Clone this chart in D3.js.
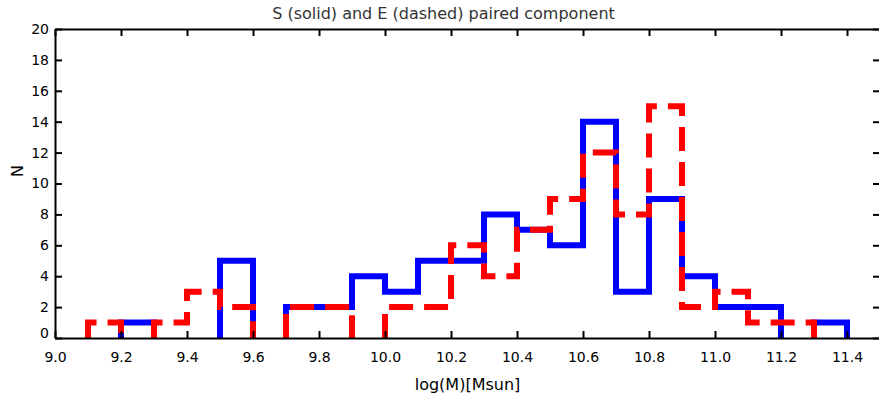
<!DOCTYPE html>
<html>
<head>
<meta charset="utf-8">
<script src="https://cdn.jsdelivr.net/npm/d3@7"></script>
<style>
  html, body { margin: 0; padding: 0; background: #fff; }
  svg { display: block; font-family: "DejaVu Sans", sans-serif; }
</style>
</head>
<body>
<svg id="chart" width="879" height="401"></svg>
<script>
// Left edges of the 0.1-dex mass bins
const binLeft = [9.1, 9.2, 9.3, 9.4, 9.5, 9.6, 9.7, 9.8, 9.9, 10.0, 10.1, 10.2,
                 10.3, 10.4, 10.5, 10.6, 10.7, 10.8, 10.9, 11.0, 11.1, 11.2, 11.3];
const binWidth = 0.1;
// S component counts (solid blue)
const sCounts = [0, 1, 0, 0, 5, 0, 2, 2, 4, 3, 5, 5, 8, 7, 6, 14, 3, 9, 4, 2, 2, 0, 1];
// E component counts (dashed red)
const eCounts = [1, 0, 1, 3, 2, 0, 2, 2, 0, 2, 2, 6, 4, 7, 9, 12, 8, 15, 2, 3, 1, 1, 0];

const xTicks = [9.0, 9.2, 9.4, 9.6, 9.8, 10.0, 10.2, 10.4, 10.6, 10.8, 11.0, 11.2, 11.4];
const yTicks = [0, 2, 4, 6, 8, 10, 12, 14, 16, 18, 20];

const titleText = "S (solid) and E (dashed) paired component";
const xLabel = "log(M)[Msun]";
const yLabel = "N";

const svg = d3.select("#chart");
const L = 55, R = 880, T = 29, B = 338;

const x = d3.scaleLinear().domain([9.0, 11.5]).range([L, R]);
const y = d3.scaleLinear().domain([0, 20]).range([B, T]);

// Step outline of a histogram; runs along the baseline are skipped
function stepPath(counts) {
  const p = d3.path();
  let pen = false;
  counts.forEach((c, i) => {
    const x0 = x(binLeft[i]), x1 = x(binLeft[i] + binWidth);
    if (c === 0) {
      if (pen) { p.lineTo(x0, y(0)); pen = false; }
      return;
    }
    if (!pen) { p.moveTo(x0, y(0)); pen = true; }
    p.lineTo(x0, y(c));
    p.lineTo(x1, y(c));
  });
  if (pen) {
    const last = counts.length - 1;
    p.lineTo(x(binLeft[last] + binWidth), y(0));
  }
  return p.toString();
}

svg.append("defs").append("clipPath").attr("id", "plotClip")
  .append("rect").attr("x", L).attr("y", T).attr("width", R - L).attr("height", B - T);

const plot = svg.append("g").attr("clip-path", "url(#plotClip)");

plot.append("path")
  .attr("d", stepPath(sCounts))
  .attr("fill", "none")
  .attr("stroke", "#0000ff")
  .attr("stroke-width", 6)
  .attr("stroke-linejoin", "miter");

plot.append("path")
  .attr("d", stepPath(eCounts))
  .attr("fill", "none")
  .attr("stroke", "#ff0000")
  .attr("stroke-width", 6)
  .attr("stroke-linejoin", "miter")
  .attr("stroke-dasharray", "24,11");

// Axes: ticks point inward on all four sides
function styleAxis(g) {
  g.select(".domain").attr("stroke", "#000").attr("stroke-width", 2);
  g.selectAll(".tick line").attr("stroke", "#000").attr("stroke-width", 2);
  g.selectAll(".tick text").attr("fill", "#000").attr("font-size", 14)
    .attr("font-family", "DejaVu Sans, sans-serif");
}

svg.append("g").attr("transform", `translate(0,${B})`)
  .call(d3.axisBottom(x).tickValues(xTicks).tickFormat(d3.format(".1f"))
    .tickSizeInner(-7).tickSizeOuter(0).tickPadding(14))
  .call(styleAxis);

svg.append("g").attr("transform", `translate(0,${T})`)
  .call(d3.axisTop(x).tickValues(xTicks).tickFormat("")
    .tickSizeInner(-7).tickSizeOuter(0))
  .call(styleAxis);

const yAxisG = svg.append("g").attr("transform", `translate(${L},0)`)
  .call(d3.axisLeft(y).tickValues(yTicks).tickFormat(d3.format("d"))
    .tickSizeInner(-7).tickSizeOuter(0).tickPadding(6))
  .call(styleAxis);
// the zero label sits slightly above the baseline
yAxisG.selectAll(".tick").filter(d => d === 0).select("text").attr("y", -5);

svg.append("g").attr("transform", `translate(${R},0)`)
  .call(d3.axisRight(y).tickValues(yTicks).tickFormat("")
    .tickSizeInner(-7).tickSizeOuter(0))
  .call(styleAxis);

// Title and axis labels
svg.append("text")
  .attr("x", 443.5).attr("y", 19)
  .attr("text-anchor", "middle")
  .attr("font-size", 16)
  .attr("fill", "#333")
  .text(titleText);

svg.append("text")
  .attr("x", (L + R) / 2).attr("y", 390)
  .attr("text-anchor", "middle")
  .attr("font-size", 16)
  .attr("fill", "#000")
  .text(xLabel);

svg.append("text")
  .attr("transform", "translate(23,171) rotate(-90)")
  .attr("text-anchor", "middle")
  .attr("font-size", 16)
  .attr("fill", "#000")
  .text(yLabel);
</script>
</body>
</html>
